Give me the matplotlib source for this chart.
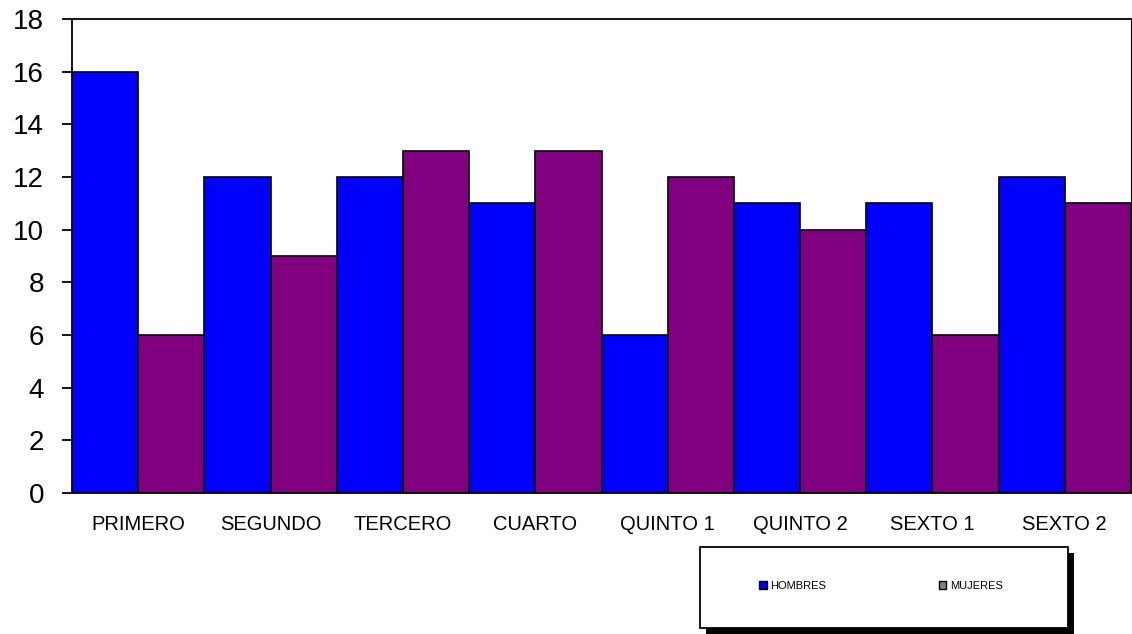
import matplotlib
matplotlib.use("Agg")
import matplotlib.pyplot as plt
from matplotlib.patches import Patch, Rectangle
import numpy as np

plt.rcParams["font.family"] = ["Liberation Sans", "DejaVu Sans"]

# ---- data ----
cursos = ["PRIMERO", "SEGUNDO", "TERCERO", "CUARTO",
          "QUINTO 1", "QUINTO 2", "SEXTO 1", "SEXTO 2"]
hombres = [16, 12, 12, 11, 6, 11, 11, 12]
mujeres = [6, 9, 13, 13, 12, 10, 6, 11]
y_ticks = [0, 2, 4, 6, 8, 10, 12, 14, 16, 18]

BLUE = "#0000ff"
PURPLE = "#800080"

fig = plt.figure(figsize=(11.32, 6.34), dpi=100)
ax = fig.add_axes([72 / 1132, 1 - 493 / 634, 1059 / 1132, 474 / 634])

x = np.arange(len(cursos))
w = 0.5
ax.bar(x - w / 2, hombres, w, color=BLUE, edgecolor="black", linewidth=1.2, label="HOMBRES")
ax.bar(x + w / 2, mujeres, w, color=PURPLE, edgecolor="black", linewidth=1.2, label="MUJERES")

ax.set_xlim(-0.5, len(cursos) - 0.5)
ax.set_ylim(0, 18)
ax.set_yticks(y_ticks)
ax.set_xticks(x)
ax.set_xticklabels(cursos, fontsize=14.5)
ax.tick_params(axis="y", labelsize=20, length=7, width=1.3, pad=13)
ax.tick_params(axis="x", length=0, pad=16)
for s in ax.spines.values():
    s.set_linewidth(1.3)
ax.spines["right"].set_linewidth(0.8)

# ---- legend box with shadow ----
bx0, by0, bx1, by1 = 700, 547, 1068, 628
W, H = 1132, 634
fig.patches.append(Rectangle(((bx0 + 6) / W, 1 - (by1 + 6) / H), (bx1 - bx0) / W, (by1 - by0) / H,
                             transform=fig.transFigure, facecolor="black", edgecolor="none", zorder=1))
fig.patches.append(Rectangle((bx0 / W, 1 - by1 / H), (bx1 - bx0) / W, (by1 - by0) / H,
                             transform=fig.transFigure, facecolor="white", edgecolor="black",
                             linewidth=1.3, zorder=2))
handles = [Patch(facecolor=BLUE, edgecolor="black", label="HOMBRES"),
           Patch(facecolor="#808080", edgecolor="black", label="MUJERES")]
leg = fig.legend(handles=handles, loc="center", ncol=2, frameon=False,
                 bbox_to_anchor=(881 / W, 1 - 586 / H),
                 fontsize=8, handlelength=0.65, handleheight=0.65,
                 handletextpad=0.3, columnspacing=10.2)
leg.set_zorder(3)

fig.savefig("out.png", dpi=100)
plt.close(fig)
